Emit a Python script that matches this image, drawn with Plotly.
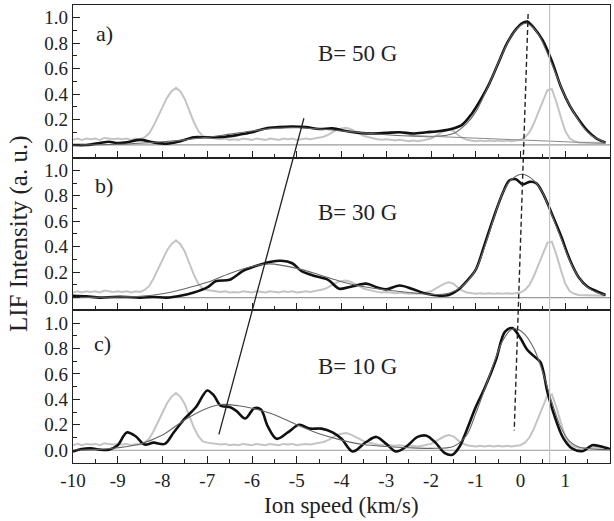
import plotly.graph_objects as go

# ---------------- data ----------------
gray_x = [round(-10 + 0.1 * i, 1) for i in range(120)]
gray_y = [0.04, 0.05, 0.04, 0.05, 0.045, 0.05, 0.04, 0.055, 0.05, 0.045,
          0.05, 0.045, 0.05, 0.04, 0.05, 0.045, 0.06, 0.09, 0.15, 0.22,
          0.30, 0.37, 0.42, 0.45, 0.42, 0.36, 0.27, 0.18, 0.11, 0.07,
          0.06, 0.055, 0.05, 0.045, 0.05, 0.04, 0.045, 0.04, 0.05, 0.045,
          0.04, 0.05, 0.045, 0.04, 0.05, 0.045, 0.04, 0.05, 0.045, 0.05,
          0.04, 0.045, 0.05, 0.045, 0.05, 0.055, 0.065, 0.08, 0.10, 0.12,
          0.13, 0.135, 0.125, 0.11, 0.09, 0.07, 0.06, 0.05, 0.045, 0.04,
          0.045, 0.04, 0.035, 0.04, 0.035, 0.03, 0.035, 0.03, 0.035, 0.04,
          0.05, 0.07, 0.09, 0.11, 0.12, 0.11, 0.08, 0.055, 0.04, 0.035,
          0.03, 0.035, 0.03, 0.035, 0.03, 0.035, 0.03, 0.035, 0.03, 0.035,
          0.04, 0.06, 0.10, 0.17, 0.26, 0.35, 0.43, 0.44, 0.34, 0.22,
          0.11, 0.05, 0.03, 0.02, 0.02, 0.015, 0.02, 0.015, 0.02, 0.015]

# panel a) B = 50 G
a_x = [-10, -9.7, -9.4, -9.2, -9.0, -8.8, -8.5, -8.2, -7.9, -7.6, -7.3, -7.0,
       -6.6, -6.3, -6.0, -5.7, -5.4, -5.1, -4.8, -4.5, -4.2, -3.9, -3.6, -3.3,
       -3.0, -2.7, -2.4, -2.1, -1.8, -1.5, -1.3, -1.1, -0.9, -0.7, -0.5, -0.3,
       -0.1, 0.05, 0.15, 0.3, 0.5, 0.7, 0.9, 1.1, 1.3, 1.5, 1.7, 1.9]
a_y = [0.0, 0.0, 0.015, 0.025, 0.015, 0.02, 0.04, 0.02, 0.01, 0.03, 0.06, 0.06,
       0.065, 0.08, 0.10, 0.13, 0.14, 0.145, 0.14, 0.125, 0.13, 0.11, 0.095, 0.09,
       0.095, 0.10, 0.09, 0.10, 0.11, 0.13, 0.16, 0.24, 0.35, 0.48, 0.64, 0.80,
       0.91, 0.96, 0.97, 0.92, 0.82, 0.66, 0.46, 0.31, 0.20, 0.11, 0.05, 0.02]
a_fit_x = [-10, -9, -8, -7.5, -7, -6.5, -6, -5.5, -5, -4.5, -4, -3.5, -3, -2.5,
           -2, -1.5, -1.2, -1.0, -0.8, -0.6, -0.4, -0.2, 0.0, 0.1, 0.2, 0.4, 0.6,
           0.8, 1.0, 1.2, 1.4, 1.6, 1.9]
a_fit_y = [0.0, 0.005, 0.025, 0.04, 0.06, 0.085, 0.11, 0.13, 0.135, 0.125, 0.11,
           0.095, 0.08, 0.07, 0.065, 0.09, 0.17, 0.26, 0.40, 0.56, 0.72, 0.86, 0.94,
           0.955, 0.945, 0.87, 0.72, 0.55, 0.38, 0.25, 0.14, 0.07, 0.02]
a_comp_x = [-2.5, -1.6, -0.8, 0.0, 0.8, 1.9]
a_comp_y = [0.075, 0.062, 0.05, 0.038, 0.025, 0.012]

# panel b) B = 30 G
b_x = [-10, -9.7, -9.4, -9.1, -8.8, -8.5, -8.2, -7.9, -7.6, -7.3, -7.0, -6.8,
       -6.5, -6.2, -5.9, -5.6, -5.35, -5.1, -4.9, -4.6, -4.3, -4.05, -3.75, -3.45,
       -3.2, -3.0, -2.7, -2.4, -2.1, -1.8, -1.6, -1.4, -1.2, -1.0, -0.8, -0.6,
       -0.4, -0.25, -0.1, 0.05, 0.2, 0.35, 0.5, 0.7, 0.9, 1.1, 1.3, 1.5, 1.7, 1.9]
b_y = [0.015, 0.01, 0.0, 0.005, 0.005, 0.0, 0.005, 0.0, 0.015, 0.04, 0.08, 0.13,
       0.14, 0.21, 0.25, 0.28, 0.29, 0.27, 0.21, 0.17, 0.14, 0.07, 0.09, 0.11,
       0.08, 0.065, 0.095, 0.065, 0.03, 0.015, 0.02, 0.06, 0.13, 0.22, 0.42, 0.63,
       0.82, 0.92, 0.93, 0.89, 0.91, 0.90, 0.82, 0.66, 0.49, 0.30, 0.16, 0.085,
       0.05, 0.02]
b_fit_x = [-10, -9, -8.5, -8, -7.5, -7, -6.5, -6, -5.6, -5, -4.5, -4, -3.5, -3,
           -2.5, -2, -1.6, -1.3, -1.0, -0.8, -0.6, -0.4, -0.2, 0.05, 0.3, 0.5,
           0.7, 0.9, 1.1, 1.3, 1.5, 1.7, 1.9]
b_fit_y = [0.0, 0.005, 0.01, 0.03, 0.07, 0.12, 0.19, 0.245, 0.265, 0.23, 0.18,
           0.125, 0.085, 0.06, 0.04, 0.025, 0.035, 0.09, 0.22, 0.40, 0.62, 0.82,
           0.93, 0.97, 0.92, 0.82, 0.65, 0.47, 0.29, 0.16, 0.08, 0.04, 0.02]

# panel c) B = 10 G
c_x = [-10, -9.8, -9.6, -9.4, -9.2, -9.0, -8.8, -8.6, -8.4, -8.2, -7.95, -7.75,
       -7.5, -7.25, -7.0, -6.85, -6.7, -6.5, -6.35, -6.15, -5.95, -5.8, -5.65,
       -5.45, -5.2, -4.95, -4.7, -4.45, -4.2, -4.0, -3.75, -3.45, -3.22, -3.0,
       -2.78, -2.55, -2.3, -2.1, -1.9, -1.7, -1.52, -1.36, -1.2, -1.0, -0.8,
       -0.55, -0.35, -0.18, 0.0, 0.15, 0.3, 0.45, 0.6, 0.75, 0.95, 1.15, 1.4,
       1.6, 1.8, 2.0]
c_y = [-0.01, 0.01, 0.015, 0.005, 0.005, 0.04, 0.14, 0.11, 0.045, 0.06, 0.05,
       0.14, 0.25, 0.34, 0.47, 0.43, 0.35, 0.34, 0.31, 0.25, 0.33, 0.32, 0.19,
       0.09, 0.14, 0.20, 0.17, 0.17, 0.14, 0.09, -0.01, 0.065, 0.105, 0.05,
       -0.01, 0.03, 0.105, 0.115, 0.06, -0.02, -0.035, 0.03, 0.16, 0.34, 0.49,
       0.71, 0.93, 0.96, 0.88, 0.79, 0.74, 0.69, 0.46, 0.28, 0.10, 0.015, -0.005,
       0.04, 0.03, 0.01]
c_fit_x = [-10, -9.5, -9, -8.5, -8, -7.5, -7, -6.7, -6.3, -6, -5.5, -5, -4.5, -4,
           -3.5, -3, -2.5, -2, -1.5, -1.2, -1.0, -0.8, -0.6, -0.4, -0.2, -0.05,
           0.1, 0.3, 0.5, 0.7, 0.9, 1.1, 1.3, 1.6, 2.0]
c_fit_y = [0.0, 0.005, 0.02, 0.05, 0.12, 0.24, 0.33, 0.36, 0.35, 0.33, 0.28,
           0.20, 0.13, 0.08, 0.045, 0.03, 0.02, 0.015, 0.03, 0.12, 0.29, 0.48,
           0.68, 0.86, 0.95, 0.95, 0.91, 0.80, 0.61, 0.38, 0.18, 0.07, 0.025,
           0.01, 0.005]

panel_labels = ["a)", "b)", "c)"]
field_labels = ["B= 50 G", "B= 30 G", "B= 10 G"]

# guide lines across all three panels, stacked coordinate (c: 0-1.2, b: 1.2-2.4, a: 2.4-3.6)
dash_x = [0.17, -0.14]
dash_y = [2.5 + 1.03, 0.1 + 0.156]
slope_x = [-6.74, -4.84]
slope_y = [0.1 + 0.125, 2.5 + 0.21]
ref_x = [0.65, 0.65]
ref_y = [0.0, 3.6]

x_tick_vals = [-10, -9, -8, -7, -6, -5, -4, -3, -2, -1, 0, 1, 2]
x_tick_text = ["-10", "-9", "-8", "-7", "-6", "-5", "-4", "-3", "-2", "-1", "0", "1", "2"]
y_tick_vals = [0.0, 0.2, 0.4, 0.6, 0.8, 1.0]
y_tick_text = ["0.0", "0.2", "0.4", "0.6", "0.8", "1.0"]

# ---------------- figure ----------------
FONT = "Liberation Serif"
INK = "#222222"
fig = go.Figure()

panels = [
    ("x3", "y3", a_x, a_y, a_fit_x, a_fit_y),
    ("x2", "y2", b_x, b_y, b_fit_x, b_fit_y),
    ("x", "y", c_x, c_y, c_fit_x, c_fit_y),
]

for xa, ya, dx, dy, fx, fy in panels:
    fig.add_trace(go.Scatter(x=[-10, 2], y=[0, 0], mode="lines",
                             line=dict(color="#9a9a9a", width=1.2),
                             xaxis=xa, yaxis=ya, showlegend=False, hoverinfo="skip"))
    fig.add_trace(go.Scatter(x=gray_x, y=gray_y, mode="lines",
                             line=dict(color="#c4c4c4", width=2),
                             xaxis=xa, yaxis=ya, showlegend=False))
    fig.add_trace(go.Scatter(x=dx, y=dy, mode="lines",
                             line=dict(color="#111111", width=2.6, shape="spline", smoothing=0.9),
                             xaxis=xa, yaxis=ya, showlegend=False))
    fig.add_trace(go.Scatter(x=fx, y=fy, mode="lines",
                             line=dict(color="#666666", width=1.1, shape="spline", smoothing=0.9),
                             xaxis=xa, yaxis=ya, showlegend=False))

fig.add_trace(go.Scatter(x=a_comp_x, y=a_comp_y, mode="lines",
                         line=dict(color="#8a8a8a", width=1),
                         xaxis="x3", yaxis="y3", showlegend=False))

# overlay guides spanning the three stacked panels
fig.add_trace(go.Scatter(x=ref_x, y=ref_y, mode="lines",
                         line=dict(color="#c4c4c4", width=1.2),
                         xaxis="x4", yaxis="y4", showlegend=False))
fig.add_trace(go.Scatter(x=dash_x, y=dash_y, mode="lines",
                         line=dict(color=INK, width=1.4, dash="5px,3px"),
                         xaxis="x4", yaxis="y4", showlegend=False))
fig.add_trace(go.Scatter(x=slope_x, y=slope_y, mode="lines",
                         line=dict(color=INK, width=1.3),
                         xaxis="x4", yaxis="y4", showlegend=False))

def xaxis(anchor, show_labels, matches=None):
    d = dict(range=[-10, 2], anchor=anchor, domain=[0, 1], automargin=False,
             showline=True, linecolor=INK, linewidth=1.2, mirror=True,
             ticks="inside", ticklen=7, tickwidth=1.3, tickcolor=INK,
             tickvals=x_tick_vals, ticktext=x_tick_text,
             showticklabels=show_labels, showgrid=False, zeroline=False,
             minor=dict(ticks="inside", ticklen=4, tickwidth=1.1, dtick=0.5,
                        tickcolor=INK, showgrid=False),
             tickfont=dict(family=FONT, size=19, color=INK))
    if matches:
        d["matches"] = matches
    return d

def yaxis(anchor, dom):
    return dict(range=[-0.1, 1.1], anchor=anchor, domain=dom, automargin=False,
                showline=True, linecolor=INK, linewidth=1.4, mirror=True,
                ticks="inside", ticklen=7, tickwidth=1.3, tickcolor=INK,
                tickvals=y_tick_vals, ticktext=y_tick_text,
                showgrid=False, zeroline=False,
                minor=dict(ticks="inside", ticklen=4, tickwidth=1.1,
                           tickvals=[-0.1 + 0.1 * k for k in range(13)],
                           tickcolor=INK, showgrid=False),
                tickfont=dict(family=FONT, size=19, color=INK))

fig.update_layout(
    template="none",
    width=614, height=521,
    margin=dict(l=73, r=4, t=5, b=58, autoexpand=False),
    paper_bgcolor="white", plot_bgcolor="rgba(0,0,0,0)",
    xaxis=xaxis("y", True),
    xaxis2=xaxis("y2", False, "x"),
    xaxis3=xaxis("y3", False, "x"),
    yaxis=yaxis("x", [0, 1 / 3]),
    yaxis2=yaxis("x2", [1 / 3, 2 / 3]),
    yaxis3=yaxis("x3", [2 / 3, 1]),
    xaxis4=dict(range=[-10, 2], domain=[0, 1], anchor="y4", visible=False, automargin=False),
    yaxis4=dict(range=[0, 3.6], domain=[0, 1], anchor="x4", visible=False, automargin=False),
    showlegend=False,
)

annotations = []
yrefs = ["y3", "y2", "y"]
label_pos = [(-9.3, 0.875), (-9.3, 0.88), (-9.33, 0.84)]
field_pos = [(-3.65, 0.72), (-3.65, 0.67), (-3.65, 0.66)]
for i in range(3):
    annotations.append(dict(x=label_pos[i][0], y=label_pos[i][1], xref="x", yref=yrefs[i],
                            text=panel_labels[i], showarrow=False,
                            font=dict(family=FONT, size=22, color=INK)))
    annotations.append(dict(x=field_pos[i][0], y=field_pos[i][1], xref="x", yref=yrefs[i],
                            text=field_labels[i], showarrow=False,
                            font=dict(family=FONT, size=23, color=INK)))
annotations.append(dict(x=-54 / 537, y=0.5, xref="paper", yref="paper",
                        text="LIF Intensity (a. u.)", textangle=-90, showarrow=False,
                        xanchor="center", yanchor="middle",
                        font=dict(family=FONT, size=25, color=INK)))
annotations.append(dict(x=0.5, y=-42 / 458, xref="paper", yref="paper",
                        text="Ion speed (km/s)", showarrow=False,
                        xanchor="center", yanchor="middle",
                        font=dict(family=FONT, size=23, color=INK)))
fig.update_layout(annotations=annotations)

# remove the browser's default 8px page margin so the figure sits at the window origin
fig.write_html("out.html", config={"displayModeBar": False},
               post_script="document.body.style.margin='0';document.body.style.overflow='hidden';")
